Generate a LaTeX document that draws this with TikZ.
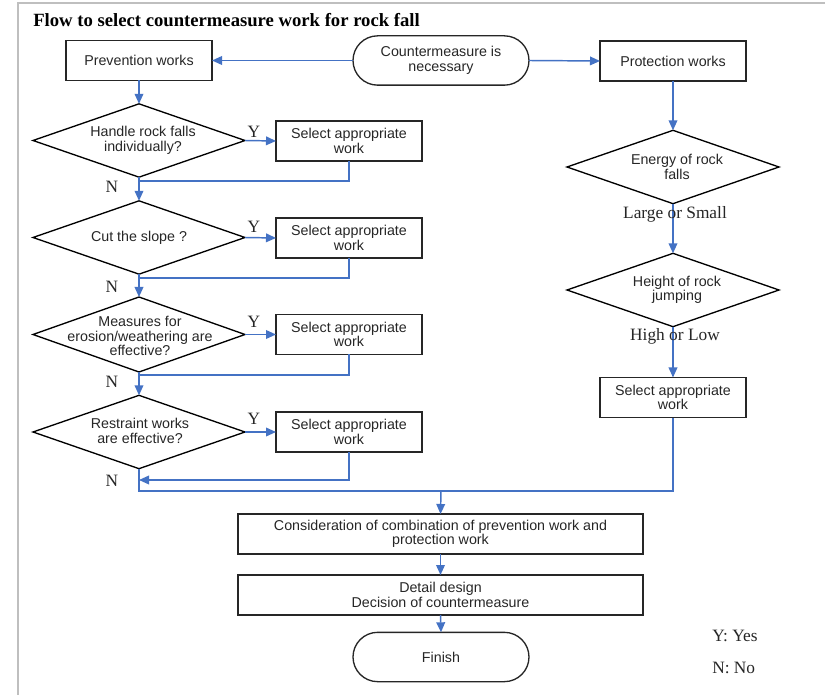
\documentclass[tikz,border=0pt]{standalone}
\usepackage{fontspec}
\setmainfont{Liberation Serif}
\setsansfont{Liberation Sans}
\usetikzlibrary{shapes.geometric,arrows.meta}
\definecolor{flowblue}{HTML}{4472C4}
\definecolor{ink}{HTML}{262626}
\definecolor{framegray}{HTML}{BFBFBF}
\tikzset{
  px/.style={x=0.75pt,y=-0.75pt},
  boxtext/.style={font=\sffamily\fontsize{10.7}{10.8}\selectfont,text=ink,align=center},
  stepbox/.style={draw=ink,line width=1pt,rectangle,inner sep=0pt,outer sep=0pt,
    minimum width=109.5pt,minimum height=30pt,boxtext},
  widebox/.style={stepbox,minimum width=303.75pt},
  terminal/.style={draw=ink,line width=1pt,rectangle,rounded corners=18.5pt,inner sep=0pt,outer sep=0pt,
    minimum width=132pt,minimum height=37pt,boxtext},
  decision/.style={draw=black,line width=1pt,diamond,inner sep=0pt,outer sep=0pt,
    minimum width=159pt,minimum height=55pt},
  flow/.style={draw=flowblue,line width=1.1pt},
  arr/.style={flow,-{Triangle[length=7.5pt,width=6.5pt]}},
  yn/.style={font=\fontsize{13}{13}\selectfont,text=ink,inner sep=0pt},
}
\begin{document}
\begin{tikzpicture}[px]
\useasboundingbox (0,0) rectangle (825,695);
% frame
\draw[framegray,line width=1.1pt] (18,695) -- (18,3) -- (825,3);
% title
\node[anchor=base west,inner sep=0pt,font=\bfseries\fontsize{14}{14}\selectfont] (title) at (33,27)
  {Flow to select countermeasure work for rock fall};

% top row
\node[terminal] (start) at (441,60.5) {Countermeasure is\\necessary};
\node[stepbox] (prev) at (139,60.5) {Prevention works};
\node[stepbox] (prot) at (673,61) {Protection works};

% prevention branch
\node[decision] (d1) at (139,140.5) {};
\node[boxtext] at (143,140.5) {Handle rock falls\\individually?};
\node[stepbox] (s1) at (349,141) {Select appropriate\\work};

\node[decision] (d2) at (139,237.5) {};
\node[boxtext] at (139,238) {Cut the slope ?};
\node[stepbox] (s2) at (349,238) {Select appropriate\\work};

\node[decision,minimum height=56.25pt] (d3) at (139,334.5) {};
\node[boxtext] at (140,336) {Measures for\\erosion/weathering are\\effective?};
\node[stepbox] (s3) at (349,334.5) {Select appropriate\\work};

\node[decision] (d4) at (139,432) {};
\node[boxtext] at (140,431) {Restraint works\\are effective?};
\node[stepbox] (s4) at (349,432) {Select appropriate\\work};

% protection branch
\node[decision] (en) at (673,167) {};
\node[boxtext] at (677,167) {Energy of rock\\falls};
\node[decision] (ht) at (673,290) {};
\node[boxtext] at (677,290) {Height of rock\\jumping};
\node[stepbox] (sp) at (673,397.5) {Select appropriate\\work};

% common end
\node[widebox] (cons) at (440.5,534) {Consideration of combination of prevention work and\\protection work};
\node[widebox] (det) at (440.5,595) {Detail design\\Decision of countermeasure};
\node[terminal] (fin) at (441,657) {Finish};

% junction points
\coordinate (j1) at (139,181);
\coordinate (j2) at (139,278);
\coordinate (j3) at (139,375);
\coordinate (j4) at (139,480);
\coordinate (j5) at (441,491);

% connectors
\draw[arr] (start.west) -- (prev.east);
\draw[arr] (start.east) -- (prot.west);
\draw[arr] (prev.south) -- (d1.north);

\draw[arr] (d1.east) -- (s1.west);
\draw[arr] (d1.south) -- (d2.north);
\draw[flow] (s1.south) |- (j1);

\draw[arr] (d2.east) -- (s2.west);
\draw[arr] (d2.south) -- (d3.north);
\draw[flow] (s2.south) |- (j2);

\draw[arr] (d3.east) -- (s3.west);
\draw[arr] (d3.south) -- (d4.north);
\draw[flow] (s3.south) |- (j3);

\draw[arr] (d4.east) -- (s4.west);
\draw[arr] (s4.south) |- (j4);
\draw[flow] (d4.south) |- (j5) -| (sp.south);
\draw[arr] (j5) -- (cons.north);

\draw[arr] (prot.south) -- (en.north);
\draw[arr] (en.south) -- (ht.north);
\draw[arr] (ht.south) -- (sp.north);

\draw[arr] (cons.south) -- (det.north);
\draw[arr] (det.south) -- (fin.north);

% branch labels
\node[yn] (y1) at (254,132) {Y};
\node[yn] (y2) at (254,227) {Y};
\node[yn] (y3) at (254,322) {Y};
\node[yn] (y4) at (254,419) {Y};
\node[yn] (n1) at (112,187) {N};
\node[yn] (n2) at (112,287) {N};
\node[yn] (n3) at (112,382) {N};
\node[yn] (n4) at (112,481) {N};
\node[yn] (ls) at (675,214) {Large or Small};
\node[yn] (hl) at (675,336) {High or Low};

% legend
\node[yn,anchor=west] (ly) at (712,636) {Y: Yes};
\node[yn,anchor=west] (ln) at (712,668) {N: No};
\end{tikzpicture}
\end{document}
